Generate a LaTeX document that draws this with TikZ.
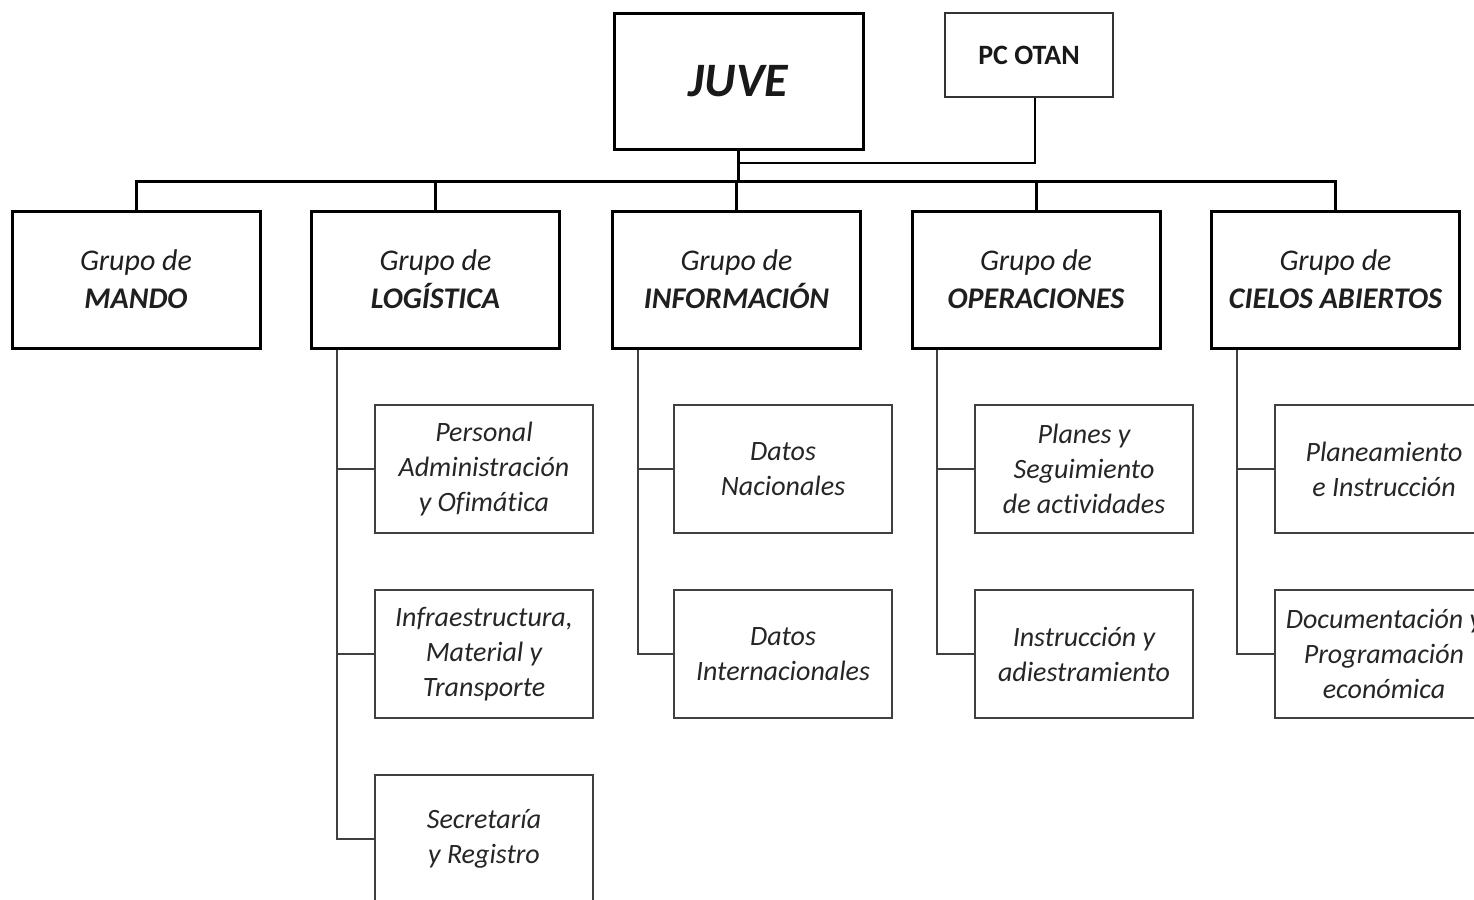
\documentclass[tikz,border=0pt]{standalone}
\usepackage{fontspec}
\setmainfont{Carlito}[Ligatures=NoCommon]
\newcommand{\gb}[1]{{\bfseries\itshape #1}}
\begin{document}
\begin{tikzpicture}[x=1pt,y=-1pt,
  topbox/.style={draw=black,line width=3pt,fill=white,inner sep=0pt,minimum width=249pt,minimum height=135pt,font=\fontsize{48}{56}\selectfont\bfseries\itshape,text=black!90},
  pcbox/.style={draw=black!80,line width=1.6pt,fill=white,inner sep=0pt,minimum width=168pt,minimum height=84pt,font=\fontsize{28}{34}\selectfont\bfseries,text=black!90},
  grpbox/.style={draw=black,line width=3pt,fill=white,inner sep=0pt,minimum width=248pt,minimum height=137pt,align=center,font=\fontsize{30}{38}\selectfont\itshape,text=black!88},
  subbox/.style={draw=black!75,line width=2pt,fill=white,inner sep=0pt,minimum width=218pt,minimum height=128pt,align=center,font=\fontsize{28}{35}\selectfont\itshape,text=black!85},
  mainline/.style={draw=black,line width=3pt},
  subline/.style={draw=black!75,line width=2pt}]
\useasboundingbox (0,0) rectangle (1474,899);
\clip (0,0) rectangle (1474,899);
\fill[white] (0,0) rectangle (1474,899);
% top
\node[topbox] (juve) at (738.5,81.5) {JUVE};
\node[pcbox] (pc) at (1029,55) {PC OTAN};
% groups
\node[grpbox] (g1) at (136,279.5) {Grupo de\\\gb{MANDO}};
\node[grpbox] (g2) at (435.5,279.5) {Grupo de\\\gb{LOGÍSTICA}};
\node[grpbox] (g3) at (736.5,279.5) {Grupo de\\\gb{INFORMACIÓN}};
\node[grpbox] (g4) at (1036,279.5) {Grupo de\\\gb{OPERACIONES}};
\node[grpbox] (g5) at (1335.5,279.5) {Grupo de\\\gb{CIELOS ABIERTOS}};
% sub boxes
\node[subbox] (l1) at (484,469) {Personal\\Administración\\y Ofimática};
\node[subbox] (l2) at (484,654) {Infraestructura,\\Material y\\Transporte};
\node[subbox] (l3) at (484,839) {Secretaría\\y Registro};
\node[subbox] (i1) at (783,469) {Datos\\Nacionales};
\node[subbox] (i2) at (783,654) {Datos\\Internacionales};
\node[subbox] (o1) at (1084,469) {Planes y\\Seguimiento\\de actividades};
\node[subbox] (o2) at (1084,654) {Instrucción y\\adiestramiento};
\node[subbox] (c1) at (1384,469) {Planeamiento\\e Instrucción};
\node[subbox] (c2) at (1384,654) {Documentación y\\Programación\\económica};
% connectors top
\coordinate (busc) at (738.5,183);
\coordinate (pcj) at (738.5,163);
\draw[mainline] (juve.south) -- (busc);
\draw[mainline,line width=2.6pt] (pcj) -| ([xshift=6pt]pc.south);
\draw[mainline] (g1.north) -- ++(0,-28) -| (g5.north);
\draw[mainline] (g2.north) -- ++(0,-28);
\draw[mainline] (g3.north) -- ++(0,-28);
\draw[mainline] (g4.north) -- ++(0,-28);
% sub connectors
\draw[subline] ([xshift=27pt]g2.south west) |- (l3.west);
\draw[subline] ([xshift=27pt]g2.south west |- l1.west) -- (l1.west);
\draw[subline] ([xshift=27pt]g2.south west |- l2.west) -- (l2.west);
\draw[subline] ([xshift=27pt]g3.south west) |- (i2.west);
\draw[subline] ([xshift=27pt]g3.south west |- i1.west) -- (i1.west);
\draw[subline] ([xshift=26pt]g4.south west) |- (o2.west);
\draw[subline] ([xshift=26pt]g4.south west |- o1.west) -- (o1.west);
\draw[subline] ([xshift=27pt]g5.south west) |- (c2.west);
\draw[subline] ([xshift=27pt]g5.south west |- c1.west) -- (c1.west);
\end{tikzpicture}
\end{document}
